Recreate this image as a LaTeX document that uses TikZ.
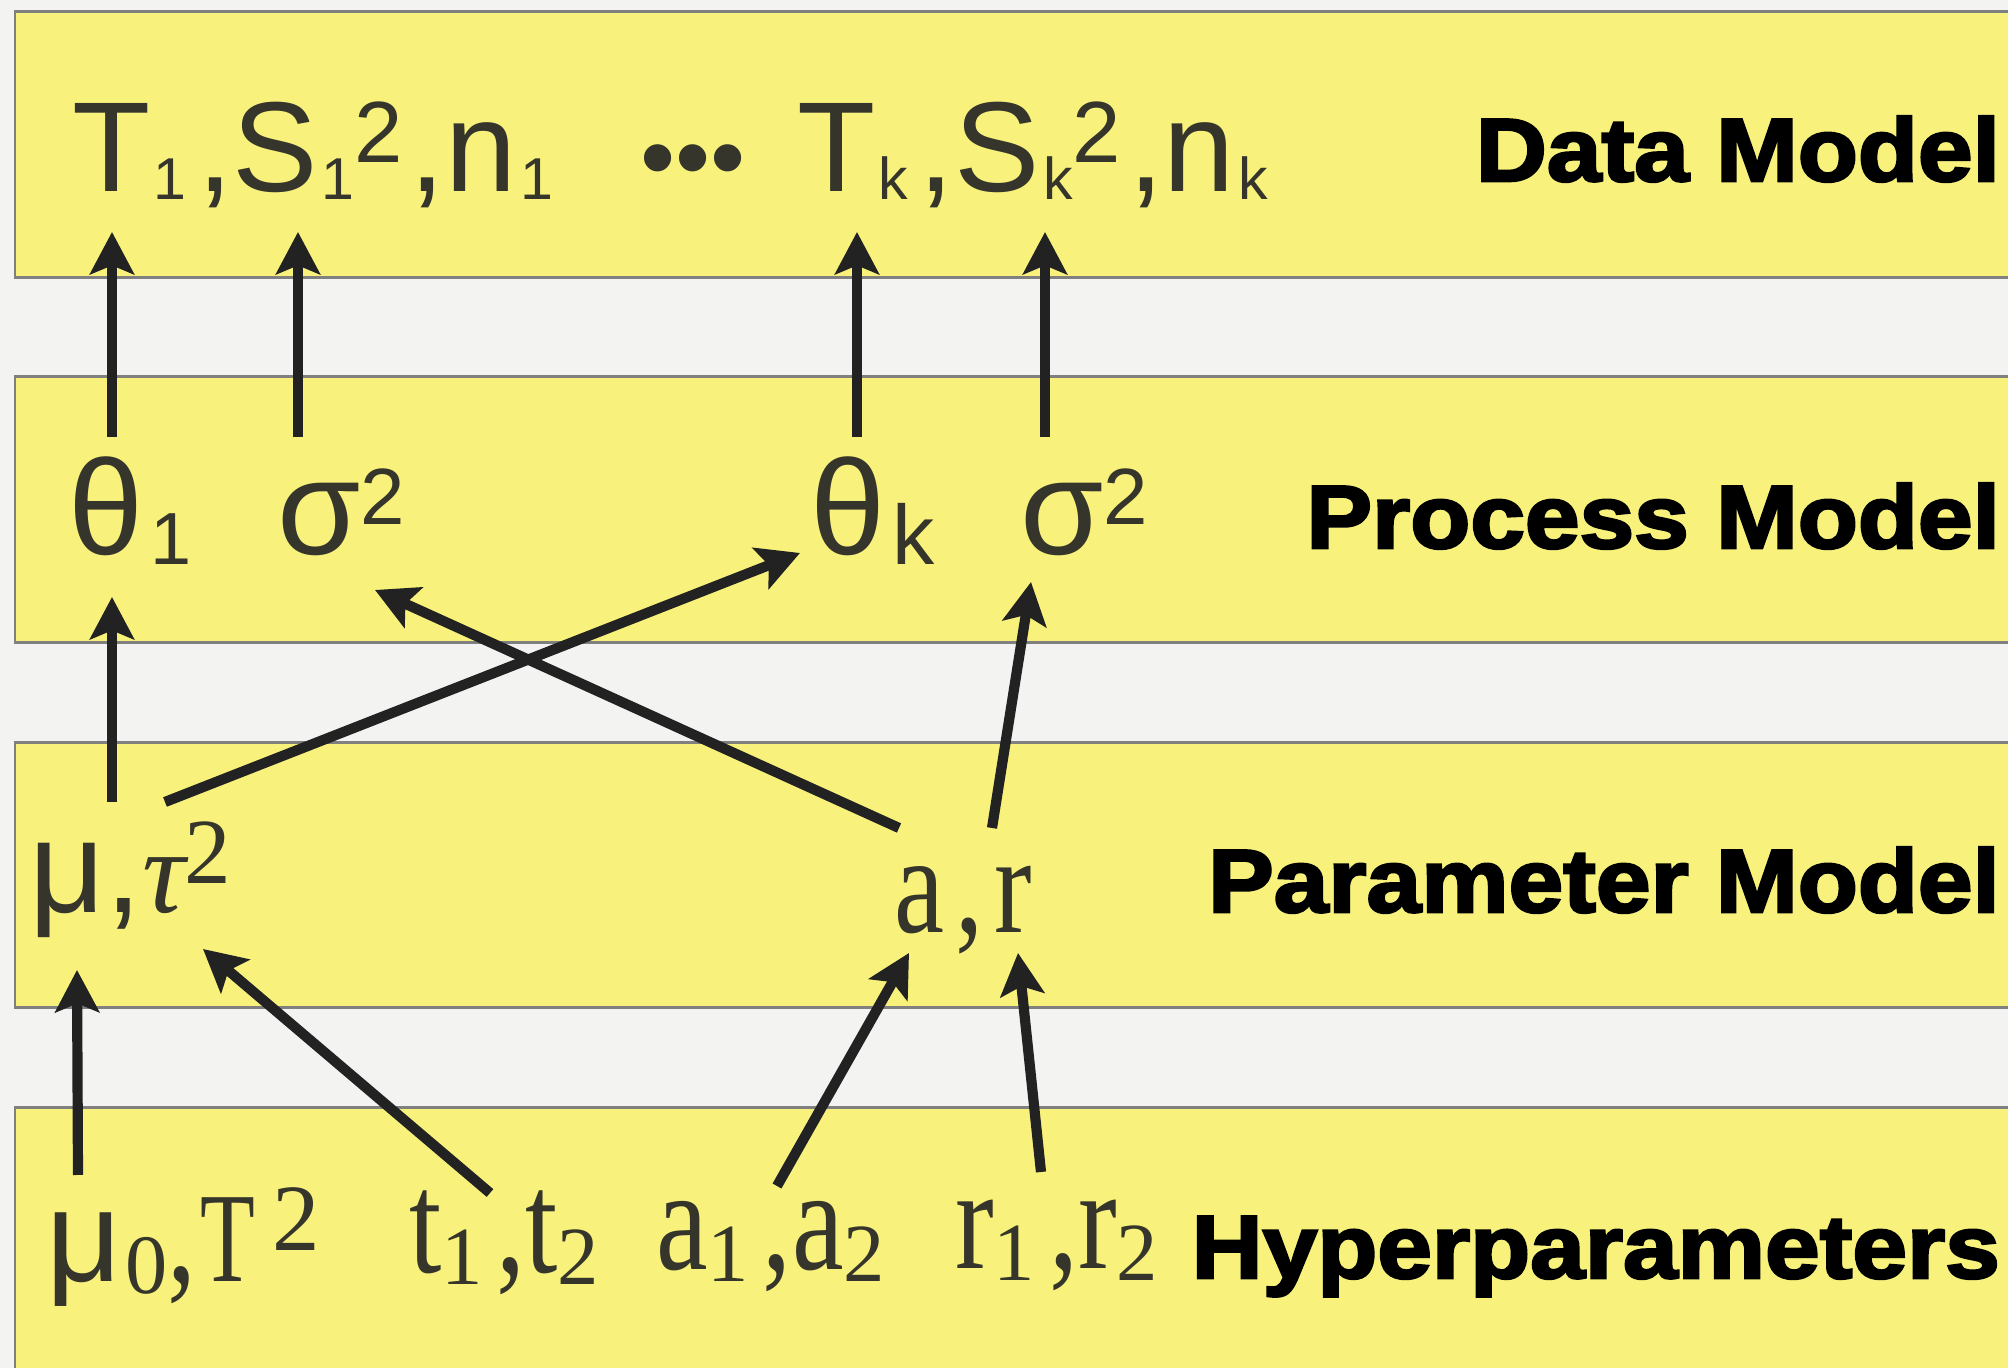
\documentclass[tikz,border=0pt]{standalone}
\usepackage{fontspec}
\usetikzlibrary{arrows.meta,calc}
\setmainfont{Liberation Sans}
\newfontfamily\lsans{Liberation Sans}
\newfontfamily\lserif{Liberation Serif}
\newfontfamily\condf{Liberation Serif}[FakeStretch=0.8]
\newfontfamily\condT{Liberation Serif}[FakeStretch=0.7]
\newfontfamily\arcond{Liberation Serif}[FakeStretch=0.8,LetterSpace=8]
\newfontfamily\lblf{Liberation Sans Bold}[FakeStretch=1.1,FakeBold=3]
\newcommand\fs[1]{\fontsize{#1}{#1}\selectfont}
\newcommand\lo[3]{\raisebox{-#2}{\fs{#1}#3}}
\newcommand\hi[3]{\raisebox{#2}{\fs{#1}#3}}
\newcommand\hsub[1]{{\lserif\fs{23.5pt}\raisebox{-3.4pt}{#1}}}
\definecolor{paper}{HTML}{F3F3F1}
\definecolor{bandy}{HTML}{F8F27C}
\definecolor{bandline}{HTML}{808080}
\definecolor{ink}{HTML}{35352B}
\definecolor{arrowc}{HTML}{222222}
\begin{document}
\begin{tikzpicture}[x=0.01cm,y=-0.01cm,
  band/.style={fill=bandy,draw=bandline,line width=0.85pt},
  txt/.style={anchor=base west,inner sep=0pt,outer sep=0pt,text=ink},
  lbl/.style={anchor=base east,inner sep=0pt,outer sep=0pt,text=black,font={\lblf\fs{25.4pt}}},
  arr/.style={draw=arrowc,line width=2.9pt,-{Stealth[length=12pt,width=12.5pt,inset=2.5pt]}}]
\useasboundingbox (0,0) rectangle (2008,1368);
\fill[paper] (0,0) rectangle (2008,1368);
\clip (0,0) rectangle (2008,1368);
% bands
\draw[band] (15,12) rectangle (2040,278);
\draw[band] (15,377) rectangle (2040,643);
\draw[band] (15,743) rectangle (2040,1008);
\draw[band] (15,1108) rectangle (2040,1400);
% labels
\node[lbl] (lData) at (2000,181) {Data Model};
\node[lbl] (lProc) at (2000,548) {Process Model};
\node[lbl] (lPar) at (2000,912) {Parameter Model};
\node[lbl] (lHyp) at (2000,1278) {Hyperparameters};
% data row
\node[txt] (d1) at (72,192) {\lsans\fs{36.4pt}T\kern1pt\lo{16.8pt}{2pt}{1}\kern3pt,S\kern1pt\lo{16.8pt}{2pt}{1}\hi{24.7pt}{8.5pt}{2}\kern2pt,n\kern1pt\lo{16.8pt}{2pt}{1}};
\node[txt] (dots) at (640,192) {\lsans\fs{28.5pt}•••};
\node[txt] (dk) at (797,192) {\lsans\fs{36.4pt}T\kern1pt\lo{16.8pt}{2pt}{k}\kern3pt,S\kern1pt\lo{16.8pt}{2pt}{k}\hi{24.7pt}{8.5pt}{2}\kern2pt,n\kern1pt\lo{16.8pt}{2pt}{k}};
% process row
\node[txt] (th1) at (68,555) {\lsans\fs{38.4pt}θ\kern2pt\lo{21pt}{2.8pt}{1}};
\node[txt] (sig1) at (277,555) {\lsans\fs{38.4pt}σ\hi{22.7pt}{8.8pt}{2}};
\node[txt] (thk) at (810,555) {\lsans\fs{38.4pt}θ\kern2pt\lo{24pt}{2.8pt}{k}};
\node[txt] (sigk) at (1020,555) {\lsans\fs{38.4pt}σ\hi{22.7pt}{8.8pt}{2}};
% parameter row
\node[txt] (mutau) at (30,913) {{\lsans\fs{37.3pt}μ,}{\lserif\itshape\fs{34pt}τ}\hi{26.5pt}{8.5pt}{\lserif 2}};
\node[txt] (ar) at (894,933) {\arcond\fs{40pt}a,r};
% hyperparameter row
\node[txt] (mu0T) at (47,1282) {{\lsans\fs{37pt}μ}\kern1pt{\lserif\fs{24pt}\raisebox{-3.4pt}{0}}{\condf\fs{41.3pt},}\kern1pt{\condT\fs{36.4pt}T}\kern5pt{\lserif\fs{27pt}\raisebox{9pt}{2}}};
\node[txt] (t12) at (409,1273) {\condf\fs{41.3pt}t\hsub{1}\kern4pt,t\hsub{2}};
\node[txt] (a12) at (656,1270) {\condf\fs{41.3pt}a\hsub{1}\kern4pt,a\hsub{2}};
\node[txt] (r12) at (955,1269) {\condf\fs{41.3pt}r\hsub{1}\kern4pt,r\hsub{2}};
% arrows process -> data
\draw[arr] ($(th1.base west)+(44,-118)$) -- ($(d1.base west)+(40,40)$);
\draw[arr] ($(sig1.base west)+(21,-118)$) -- ($(d1.base west)+(226,40)$);
\draw[arr] ($(thk.base west)+(47,-118)$) -- ($(dk.base west)+(60,40)$);
\draw[arr] ($(sigk.base west)+(25,-118)$) -- ($(dk.base west)+(248,40)$);
% parameter -> process
\draw[arr] ($(mutau.base west)+(82,-111)$) -- ($(th1.base west)+(44,42)$);
\draw[arr] ($(mutau.base west)+(135,-111)$) -- ($(thk.base west)+(-10,-2)$);
\draw[arr] ($(ar.base west)+(5,-105)$) -- ($(sig1.base west)+(98,35)$);
\draw[arr] ($(ar.base west)+(98,-105)$) -- ($(sigk.base west)+(11,27)$);
% hyper -> parameter
\draw[arr] ($(mu0T.base west)+(31,-107)$) -- ($(mutau.base west)+(47,57)$);
\draw[arr] ($(t12.base west)+(81,-80)$) -- ($(mutau.base west)+(173,36)$);
\draw[arr] ($(a12.base west)+(121,-84)$) -- ($(ar.base west)+(15,20)$);
\draw[arr] ($(r12.base west)+(86,-97)$) -- ($(ar.base west)+(124,20)$);
\end{tikzpicture}
\end{document}
